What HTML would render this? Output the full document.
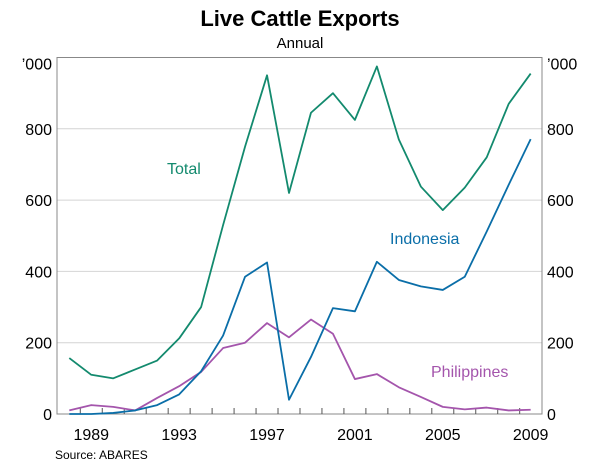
<!DOCTYPE html>
<html><head><meta charset="utf-8"><style>
body{margin:0;background:#fff}
svg text{font-family:"Liberation Sans",sans-serif}
</style></head><body>
<svg width="600" height="463" viewBox="0 0 600 463" xmlns="http://www.w3.org/2000/svg">
<text x="300" y="26" text-anchor="middle" font-size="22" font-weight="bold">Live Cattle Exports</text>
<text x="300" y="48" text-anchor="middle" font-size="15">Annual</text>
<g id="grid"></g>
<rect x="57" y="57.5" width="485" height="356.5" fill="none" stroke="#888" stroke-width="1"/>
<g id="ticks"></g>
<g id="lines"></g>
<text x="167" y="174" font-size="16" fill="#138a6e">Total</text>
<text x="390" y="244" font-size="16" fill="#0a6ea8">Indonesia</text>
<text x="431" y="377" font-size="16" fill="#a455ac">Philippines</text>
<text x="55" y="459" font-size="12">Source: ABARES</text>
</svg>
<script>
const years=[1988,1989,1990,1991,1992,1993,1994,1995,1996,1997,1998,1999,2000,2001,2002,2003,2004,2005,2006,2007,2008,2009];
const total=[157,110,100,125,150,212,300,530,750,950,620,845,900,825,975,770,638,572,635,720,870,955];
const indonesia=[0,0,3,10,25,55,120,220,385,425,40,160,297,288,427,376,358,348,385,512,643,771];
const philippines=[10,25,20,10,45,78,118,185,200,255,215,265,225,98,112,75,48,20,13,18,10,12];
const yTicks=[0,200,400,600,800];
const xLabels=[1989,1993,1997,2001,2005,2009];
const NS='http://www.w3.org/2000/svg';
function x(v){return 69.3+(v-1988)*21.97;}
function y(v){return 414-v*0.3565;}
function mk(t,a,p){const e=document.createElementNS(NS,t);for(const k in a)e.setAttribute(k,a[k]);p.appendChild(e);return e;}
const svg=document.querySelector('svg');
const grid=document.getElementById('grid'),ticks=document.getElementById('ticks'),lines=document.getElementById('lines');
yTicks.forEach(v=>{
 if(v>0){const g=mk('line',{x1:57,x2:542,y1:y(v),y2:y(v),stroke:'#d4d4d4','stroke-width':1},grid);
 
 }
 const l=mk('text',{x:52,y:y(v)+6,'text-anchor':'end','font-size':16},svg);l.textContent=v;
 
 
 const r=mk('text',{x:547,y:y(v)+6,'font-size':16},svg);r.textContent=v;
 
 
});
const lt=mk('text',{x:52,y:y(1000)+12,'text-anchor':'end','font-size':16},svg);lt.textContent='’000';


const rt=mk('text',{x:547,y:y(1000)+12,'font-size':16},svg);rt.textContent='’000';


for(let yr=1988;yr<=2008;yr++){
 const t=mk('line',{x1:x(yr+0.5),x2:x(yr+0.5),y1:414,y2:408,stroke:'#555','stroke-width':1},ticks);
 
 
}
xLabels.forEach(v=>{
 const t=mk('text',{x:x(v),y:440,'text-anchor':'middle','font-size':16},svg);t.textContent=v;
 
 
});
function series(d,c,n){
 const p=mk('polyline',{points:d.map((v,i)=>x(years[i])+','+y(v)).join(' '),fill:'none',stroke:c,'stroke-width':1.8,'stroke-linejoin':'round'},lines);
 
 
}
series(philippines,'#a455ac','philippines-line');
series(total,'#138a6e','total-line');
series(indonesia,'#0a6ea8','indonesia-line');
</script>
</body></html>
